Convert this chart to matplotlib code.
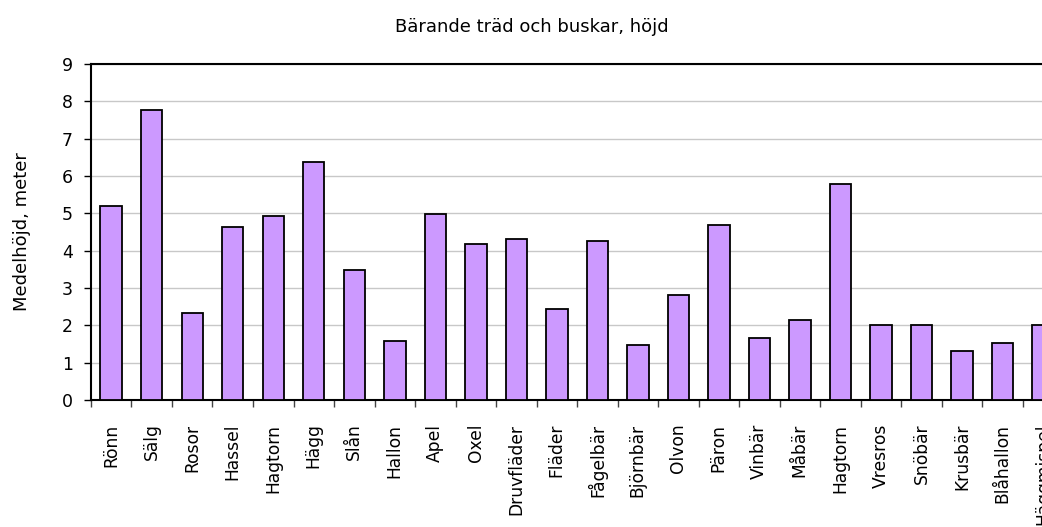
import matplotlib
matplotlib.use('Agg')
import matplotlib.pyplot as plt
import numpy as np

plt.rcParams['font.family'] = ['DejaVu Sans']

SPECIES = ['Rönn', 'Sälg', 'Rosor', 'Hassel', 'Hagtorn', 'Hägg', 'Slån', 'Hallon',
           'Apel', 'Oxel', 'Druvfläder', 'Fläder', 'Fågelbär', 'Björnbär', 'Olvon',
           'Päron', 'Vinbär', 'Måbär', 'Hagtorn', 'Vresros', 'Snöbär', 'Krusbär',
           'Blåhallon', 'Häggmispel']
HEIGHTS = [5.2, 7.77, 2.33, 4.63, 4.93, 6.38, 3.47, 1.58,
           4.97, 4.18, 4.32, 2.43, 4.27, 1.48, 2.8,
           4.68, 1.67, 2.13, 5.78, 2.0, 2.0, 1.3,
           1.53, 2.0]

x = np.arange(len(SPECIES))

fig = plt.figure(figsize=(10.42, 5.27), dpi=100)
ax = fig.add_axes([0.0873, 0.241, 0.933, 0.6376])

ax.bar(x, HEIGHTS, width=0.53, color='#CC99FF', edgecolor='black', lw=1.3, zorder=3)

ax.set_xlim(-0.5, len(SPECIES) - 0.5)
ax.set_ylim(0, 9)
ax.set_yticks(range(10))
ax.yaxis.grid(True, color='#c8c8c8', lw=1, zorder=0)

ax.set_xticks(x)
ax.set_xticklabels(SPECIES, rotation=90, fontsize=12.3)
ax.tick_params(axis='x', length=0, pad=17)
ax.set_xticks(np.arange(len(SPECIES) + 1) - 0.5, minor=True)
ax.tick_params(axis='x', which='minor', length=5, width=1, color='#444444')
ax.tick_params(axis='y', length=5, width=1, labelsize=12.5, pad=8)

for s in ['left', 'bottom', 'top']:
    ax.spines[s].set_linewidth(1.5)
ax.spines['right'].set_visible(False)

ax.set_ylabel('Medelhöjd, meter', fontsize=13, labelpad=22)
fig.text(0.51, 0.948, 'Bärande träd och buskar, höjd', ha='center', va='center',
         fontsize=13)

plt.savefig('out.png', dpi=100)
plt.close()
